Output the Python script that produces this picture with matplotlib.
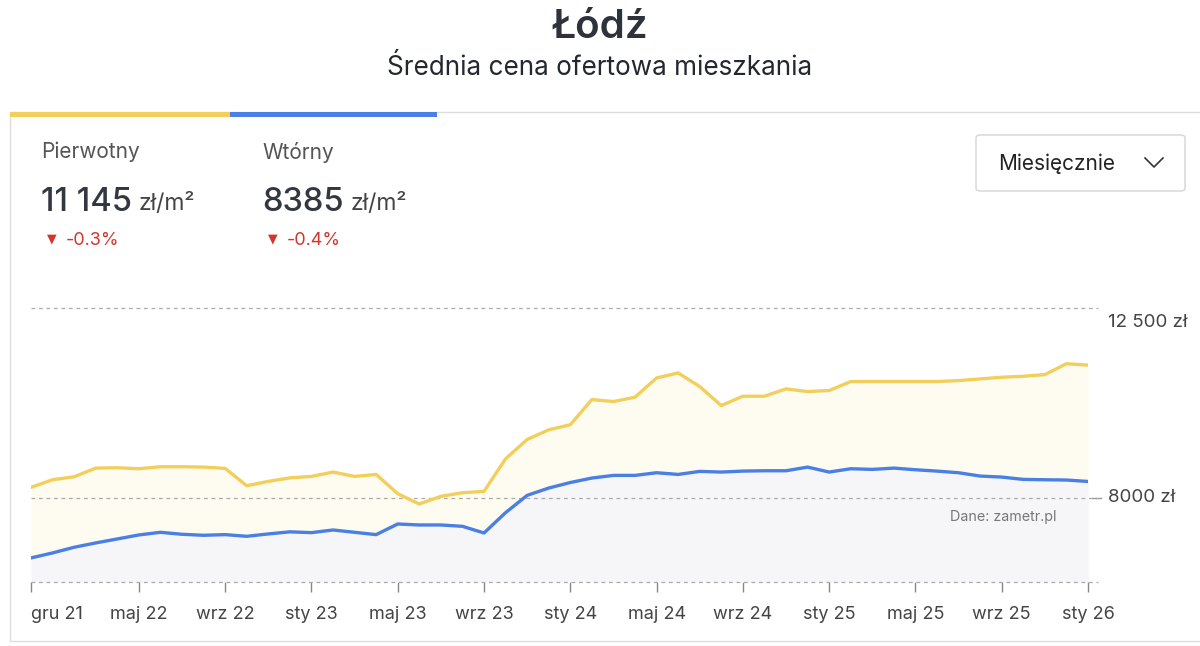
import matplotlib.pyplot as plt
from matplotlib.patches import Rectangle, FancyBboxPatch
from matplotlib.lines import Line2D
import numpy as np

# Dane (miesięcznie, gru 21 - sty 26)
pierwotny = [8245, 8426, 8497, 8702, 8710, 8687, 8734, 8734, 8726, 8695,
             8284, 8387, 8470, 8505, 8608, 8505, 8552, 8095, 7850, 8032,
             8118, 8150, 8923, 9381, 9610, 9730, 10328, 10281, 10384, 10841,
             10960, 10636, 10186, 10407, 10407, 10581, 10518, 10542, 10755, 10755,
             10755, 10755, 10755, 10778, 10818, 10857, 10881, 10920, 11178, 11145]
wtorny = [6571, 6690, 6824, 6927, 7021, 7116, 7179, 7132, 7108, 7124,
          7084, 7140, 7190, 7171, 7234, 7179, 7124, 7376, 7353, 7353,
          7321, 7163, 7645, 8055, 8229, 8360, 8466, 8529, 8529, 8592,
          8552, 8624, 8608, 8631, 8639, 8639, 8726, 8608, 8687, 8671,
          8702, 8663, 8631, 8592, 8513, 8489, 8434, 8426, 8419, 8385]
tick_idx = [0, 5, 9, 13, 17, 21, 25, 29, 33, 37, 41, 45, 49]
tick_labels = ['gru 21', 'maj 22', 'wrz 22', 'sty 23', 'maj 23', 'wrz 23', 'sty 24',
               'maj 24', 'wrz 24', 'sty 25', 'maj 25', 'wrz 25', 'sty 26']
y_ticks = [8000, 12500]
y_labels = ['8000 zł', '12 500 zł']
y_min = 6000

YELLOW = '#F2CF5B'
BLUE = '#4A7FE3'
RED = '#D2352D'

plt.rcParams['font.family'] = ['Inter', 'DejaVu Sans']

W, H = 1200, 646
fig = plt.figure(figsize=(W / 100, H / 100), dpi=100)


def fx(x):
    return x / W


def fy(y):
    return 1 - y / H


# Tytuły
fig.text(0.5, fy(27), 'Łódź', ha='center', va='center', fontsize=29, fontweight='semibold', color='#2E333B')
fig.text(0.5, fy(68), 'Średnia cena ofertowa mieszkania', ha='center', va='center', fontsize=18.8, color='#23272E')

# Karta
fig.add_artist(Rectangle((fx(10), fy(641)), fx(1200), fy(112) - fy(641), transform=fig.transFigure,
                         facecolor='none', edgecolor='#dddddd', lw=1))
fig.add_artist(Rectangle((fx(10), fy(117)), fx(220), fy(112) - fy(117), transform=fig.transFigure,
                         facecolor=YELLOW, edgecolor='none'))
fig.add_artist(Rectangle((fx(230), fy(117)), fx(207), fy(112) - fy(117), transform=fig.transFigure,
                         facecolor=BLUE, edgecolor='none'))

# Nagłówki serii
for x0, name, val, chg in [(41, 'Pierwotny', '11 145', '-0.3%'), (262, 'Wtórny', '8385', '-0.4%')]:
    fig.text(fx(x0), fy(152), name, ha='left', va='center', fontsize=15, color='#555555')
    t = fig.text(fx(x0), fy(202), val, ha='left', va='center', fontsize=23.5, fontweight='medium', color='#333840')
    fig.canvas.draw()
    bb = t.get_window_extent()
    fig.text(bb.x1 / W + fx(7), fy(204), 'zł/m²', ha='left', va='center', fontsize=16.5, color='#444444')
    fig.text(fx(x0 + 6), fy(239), '▼', ha='left', va='center', fontsize=9, color=RED, family='DejaVu Sans')
    fig.text(fx(x0 + 25), fy(240), chg, ha='left', va='center', fontsize=13, color=RED)

# Lista rozwijana
fig.add_artist(FancyBboxPatch((fx(976), fy(191)), fx(209), fy(135) - fy(191),
                              boxstyle='round,pad=0,rounding_size=0.004', transform=fig.transFigure,
                              facecolor='white', edgecolor='#d5d5d5', lw=1))
fig.text(fx(998), fy(164), 'Miesięcznie', ha='left', va='center', fontsize=15, color='#222222')
fig.add_artist(Line2D([fx(1145), fx(1154), fx(1163)], [fy(158), fy(167), fy(158)],
                      transform=fig.transFigure, color='#333333', lw=1.2))

# Wykres
ax = fig.add_axes([fx(31), fy(582), fx(1088) - fx(31), fy(308) - fy(582)])
x = np.arange(len(pierwotny))
ax.fill_between(x, pierwotny, y_min, color='#FEFCF0', lw=0, zorder=1)
ax.fill_between(x, wtorny, y_min, color='#F6F6F8', lw=0, zorder=2)
ax.plot(x, pierwotny, color=YELLOW, lw=2.4, zorder=4, solid_joinstyle='round')
ax.plot(x, wtorny, color=BLUE, lw=2.4, zorder=5, solid_joinstyle='round')

for yv in [y_min] + y_ticks:
    ax.axhline(yv, xmin=0, xmax=1.009, color='#aaaaaa', lw=0.9, ls=(0, (3, 3)), clip_on=False, zorder=3)
ax.plot([1.004, 1.012], [8000, 8000], transform=ax.get_yaxis_transform(), color='#999999', lw=1, clip_on=False)
ax.text(1.019, 8000, y_labels[0], transform=ax.get_yaxis_transform(), ha='left', va='center',
        fontsize=13.5, color='#444444')
ax.annotate(y_labels[1], xy=(1.019, 12500), xycoords=ax.get_yaxis_transform(), xytext=(0, -6),
            textcoords='offset pixels', ha='left', va='top', fontsize=13.5, color='#444444',
            annotation_clip=False)
ax.text(0.97, 0.237, 'Dane: zametr.pl', transform=ax.transAxes, ha='right', va='center',
        fontsize=10.3, color='#777777')

ax.set_xlim(0, len(pierwotny) - 1)
ax.set_ylim(y_min, 12500)
ax.set_yticks([])
ax.set_xticks(tick_idx)
ax.set_xticklabels(tick_labels, fontsize=13, color='#444444')
ax.get_xticklabels()[0].set_ha('left')
ax.tick_params(axis='x', length=7, width=1, color='#888888', pad=10)
for s in ax.spines.values():
    s.set_visible(False)
ax.patch.set_alpha(0)

fig.savefig('out.png', dpi=100)
